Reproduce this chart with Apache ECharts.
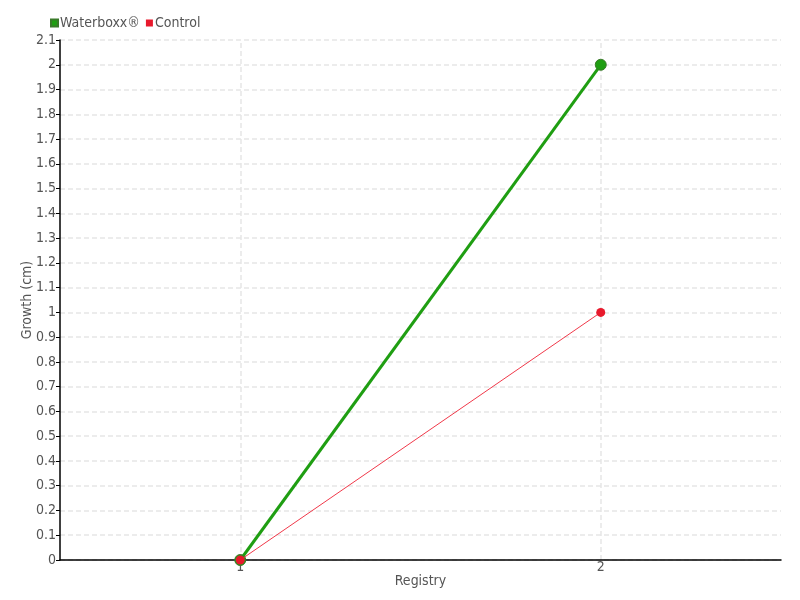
<!DOCTYPE html>
<html><head><meta charset="utf-8">
<script src="https://cdn.jsdelivr.net/npm/echarts@6/dist/echarts.min.js"></script>
<style>html,body{margin:0;padding:0;background:#fff}#c{width:800px;height:600px}</style>
</head><body><div id="c"></div>
<script>
const categories = ['1', '2'];
const waterboxx = [0, 2];
const control = [0, 1];
const yMin = 0, yMax = 2.1, yStep = 0.1;
const FONT = 'DejaVu Sans Condensed';
const TXT = '#555';
const GRIDLINE = {color: '#e6e6e6', width: 1.5, type: [5, 3]};
const chart = echarts.init(document.getElementById('c'), null, {renderer: 'canvas'});
chart.setOption({
  animation: false,
  textStyle: {fontFamily: FONT},
  legend: {
    left: 45, top: 11, itemWidth: 7, itemHeight: 7, itemGap: 6,
    icon: 'rect',
    textStyle: {fontFamily: FONT, fontSize: 14, color: TXT, padding: [0, 0, 0, -3]},
    data: ['Waterboxx®', 'Control']
  },
  grid: {left: 60, right: 19, top: 40, bottom: 40, containLabel: false},
  xAxis: {
    type: 'category', data: categories, boundaryGap: true,
    name: 'Registry', nameLocation: 'middle', nameGap: 14, nameMoveOverlap: false,
    nameTextStyle: {fontFamily: FONT, fontSize: 14, color: TXT},
    axisLine: {lineStyle: {color: '#000', width: 1.5}},
    axisTick: {alignWithLabel: true, length: 12, lineStyle: {color: '#555'}},
    axisLabel: {fontFamily: FONT, fontSize: 14, color: TXT, margin: 0},
    splitLine: {show: false}
  },
  yAxis: {
    type: 'value', min: yMin, max: yMax, interval: yStep,
    name: 'Growth (cm)', nameLocation: 'middle', nameGap: 26, nameMoveOverlap: false,
    nameTextStyle: {fontFamily: FONT, fontSize: 14, color: TXT},
    axisLine: {show: true, lineStyle: {color: '#000', width: 1.5}},
    axisTick: {show: true, length: 4, lineStyle: {color: '#000'}},
    axisLabel: {fontFamily: FONT, fontSize: 14, color: TXT, margin: 4,
      formatter: v => String(Math.round(v * 10) / 10)},
    splitLine: {show: true, lineStyle: GRIDLINE}
  },
  series: [
    {
      name: 'grid-x', type: 'line', data: [], z: 0, silent: true,
      markLine: {
        z: 0, silent: true, symbol: 'none', label: {show: false},
        lineStyle: GRIDLINE,
        data: categories.map(c => ({xAxis: c}))
      }
    },
    {
      name: 'Waterboxx®', type: 'line', data: waterboxx,
      symbol: 'circle', symbolSize: 11,
      lineStyle: {color: '#1f9e12', width: 3},
      itemStyle: {color: '#1f9e12', borderColor: '#3a7a2a', borderWidth: 1},
      z: 2
    },
    {
      name: 'Control', type: 'line', data: control,
      symbol: 'circle', symbolSize: 9,
      lineStyle: {color: '#f0394a', width: 1},
      itemStyle: {color: '#e8192c'},
      z: 3
    }
  ]
});
</script></body></html>
